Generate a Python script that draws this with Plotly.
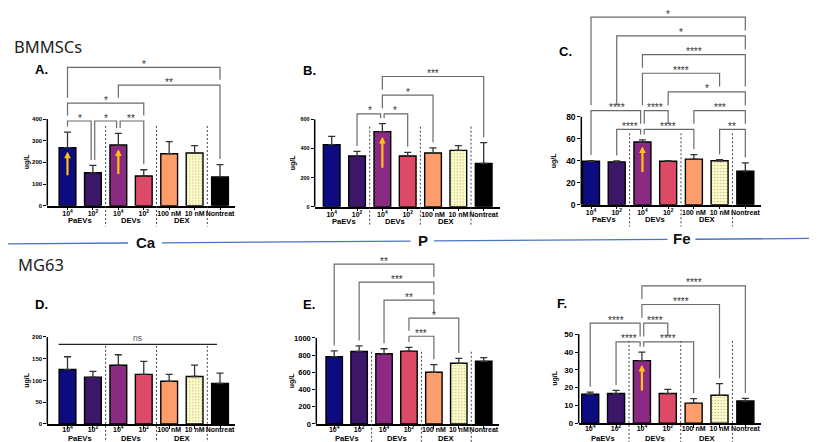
import plotly.graph_objects as go

W, H = 817, 442

# ---------------- data ----------------
categories = ["10<sup>4</sup>", "10<sup>2</sup>", "10<sup>4</sup>", "10<sup>2</sup>", "100 nM", "10 nM", "Nontreat"]
group_names = ["PaEVs", "DEVs", "DEX"]
group_pos = [0.5, 2.5, 4.5]
separator_pos = [1.5, 3.5, 5.5]
bar_colors = ["#0c0c80", "#3b1669", "#8b2a82", "#dd4a68", "#fe9d6c", "#fdfac6", "#000000"]

# A. Ca - BMMSCs
ca_bm_mean = [268, 152, 280, 137, 240, 243, 133]
ca_bm_sd = [72, 34, 54, 29, 56, 34, 57]
ca_bm_ticks = [0, 100, 200, 300, 400]
ca_bm_sig = [(0, 1, 1, "*"), (1, 2, 1, "*"), (2, 3, 1, "**"), (0, 3, 2, "*"), (2, 6, 3, "**"), (0, 6, 4, "*")]

# B. P - BMMSCs
p_bm_mean = [427, 349, 516, 349, 369, 387, 297]
p_bm_sd = [56, 31, 55, 25, 36, 33, 143]
p_bm_ticks = [0, 200, 400, 600]
p_bm_sig = [(1, 2, 1, "*"), (2, 3, 1, "*"), (2, 4, 2, "*"), (2, 6, 3, "***")]

# C. Fe - BMMSCs
fe_bm_mean = [39.5, 39.0, 57.0, 39.5, 41.5, 40.0, 30.5]
fe_bm_sd = [0.7, 0.8, 2.0, 0.5, 4.0, 1.0, 7.5]
fe_bm_ticks = [0, 20, 40, 60, 80]
fe_bm_sig = [(1, 2, 1, "****"), (2, 4, 1, "****"), (5, 6, 1, "**"),
             (0, 2, 2, "****"), (2, 3, 2, "****"), (4, 6, 2, "***"),
             (3, 6, 3, "*"), (2, 5, 4, "****"), (2, 6, 5, "****"),
             (1, 6, 6, "*"), (0, 6, 7, "*")]

# D. Ca - MG63
ca_mg_mean = [125, 107.6, 135, 114, 98, 109, 93]
ca_mg_sd = [29.5, 13.4, 24, 30, 16, 26, 24]
ca_mg_ticks = [0, 50, 100, 150, 200]
ca_mg_sig = [(0, 6, 1, "ns")]

# E. P - MG63
p_mg_mean = [781, 843, 816, 847, 601, 705, 728]
p_mg_sd = [69, 65, 58, 42, 89, 57, 42]
p_mg_ticks = [0, 200, 400, 600, 800, 1000]
p_mg_sig = [(3, 4, 1, "***"), (3, 5, 2, "*"), (2, 4, 3, "**"), (1, 4, 4, "***"), (0, 4, 5, "**")]

# F. Fe - MG63
fe_mg_mean = [16.3, 16.7, 35.2, 16.7, 11.3, 15.7, 12.5]
fe_mg_sd = [1.2, 1.8, 4.8, 2.3, 2.5, 6.6, 1.5]
fe_mg_ticks = [0, 10, 20, 30, 40, 50]
fe_mg_sig = [(1, 2, 1, "****"), (2, 4, 1, "****"), (0, 2, 2, "****"), (2, 3, 2, "****"),
             (2, 5, 3, "****"), (2, 6, 4, "****")]

# ---------------- layout parameters (pixels) ----------------
panels = [
    dict(label="A.", lab_xy=(25, 62.5), mean=ca_bm_mean, sd=ca_bm_sd, ticks=ca_bm_ticks, sig=ca_bm_sig, arrows=[0, 2],
         left=39.3, bar0=59.5, step=25.42, right=227, y0=200, tickpx=112.3, top=45,
         base=114.3, lstep=18.1, septop=119.3, sepbot=221, ylab=(19, 156), tfs=6, glab=15.3, tso=-3),
    dict(label="B.", lab_xy=(292.5, 63), mean=p_bm_mean, sd=p_bm_sd, ticks=p_bm_ticks, sig=p_bm_sig, arrows=[2],
         left=306.7, bar0=323.7, step=25.33, right=491.7, y0=201, tickpx=112.7, top=55,
         base=107, lstep=18.85, septop=120, sepbot=221, ylab=(285, 157), tfs=5.5, glab=15.3, tso=-3),
    dict(label="C.", lab_xy=(549, 44), mean=fe_bm_mean, sd=fe_bm_sd, ticks=fe_bm_ticks, sig=fe_bm_sig, arrows=[2],
         left=573.3, bar0=583, step=25.72, right=753, y0=199, tickpx=110, top=0,
         base=122.7, lstep=18.9, septop=126.7, sepbot=221, ylab=(546, 155), tfs=8.5, glab=15.3, tso=-3),
    dict(label="D.", lab_xy=(25, 299.5), mean=ca_mg_mean, sd=ca_mg_sd, ticks=ca_mg_ticks, sig=ca_mg_sig, arrows=[],
         left=39.3, bar0=59.5, step=25.42, right=227, y0=420.7, tickpx=332.7, top=325,
         base=340.3, lstep=18.5, septop=341.7, sepbot=442, ylab=(19, 377), tfs=6, glab=14.8, tso=-5),
    dict(label="E.", lab_xy=(292.5, 300), mean=p_mg_mean, sd=p_mg_sd, ticks=p_mg_ticks, sig=p_mg_sig, arrows=[],
         left=308.3, bar0=326.2, step=24.92, right=490.7, y0=420.7, tickpx=333.7, top=245,
         base=332, lstep=18.25, septop=347.7, sepbot=442, ylab=(283.5, 377), tfs=7.5, glab=14.8, tso=-5),
    dict(label="F.", lab_xy=(546.5, 299), mean=fe_mg_mean, sd=fe_mg_sd, ticks=fe_mg_ticks, sig=fe_mg_sig, arrows=[2],
         left=570.7, bar0=582.2, step=25.86, right=753.3, y0=420, tickpx=330, top=268,
         base=337.7, lstep=18.9, septop=336.7, sepbot=442, ylab=(547, 375), tfs=8, glab=15.2, tso=-5),
]

FONT = "Liberation Sans"
BR_COLOR = "#6a6a6a"
GAP_PX = 5.5


def px2x(px):
    return px / W


def px2y(py):
    return 1 - py / H


fig = go.Figure()
shapes = []
annotations = []
layout_axes = {}

for k, p in enumerate(panels, start=1):
    xn = "x" if k == 1 else f"x{k}"
    yn = "y" if k == 1 else f"y{k}"
    xl = "xaxis" if k == 1 else f"xaxis{k}"
    yl = "yaxis" if k == 1 else f"yaxis{k}"

    tmax = p["ticks"][-1]
    pxu = (p["y0"] - p["tickpx"]) / tmax  # pixels per data unit
    ymax = (p["y0"] - p["top"]) / pxu
    xmin = (p["left"] - p["bar0"]) / p["step"]
    xmax = (p["right"] - p["bar0"]) / p["step"]

    n = len(categories)
    xs = list(range(n))
    errtop = [m + s for m, s in zip(p["mean"], p["sd"])]
    pattern_shapes = ["." if c == "10 nM" else "" for c in categories]

    fig.add_trace(go.Bar(
        x=xs, y=p["mean"], xaxis=xn, yaxis=yn, width=0.66,
        marker=dict(color=bar_colors, line=dict(color="#000000", width=1.4),
                    pattern=dict(shape=pattern_shapes, fgcolor="#e4e0b4", size=3, solidity=0.12)),
        error_y=dict(type="data", symmetric=False, array=p["sd"], arrayminus=[0] * n,
                     color="#333333", thickness=1.3, width=3.5),
        showlegend=False, hoverinfo="skip",
    ))

    layout_axes[xl] = dict(
        domain=[px2x(p["left"]), px2x(p["right"])], range=[xmin, xmax], anchor=yn,
        tickvals=xs, ticktext=categories, tickangle=0, ticks="outside", ticklen=3, tickwidth=1.2,
        tickcolor="#000", showline=True, linecolor="#000", linewidth=1.5, showgrid=False,
        zeroline=False, tickfont=dict(family=FONT, size=7, color="#000", weight="bold"),
        ticklabelstandoff=p["tso"], fixedrange=True,
    )
    layout_axes[yl] = dict(
        domain=[px2y(p["y0"]), px2y(p["top"])], range=[0, ymax], anchor=xn,
        tickvals=p["ticks"], ticks="outside", ticklen=3, tickwidth=1.2, tickcolor="#000",
        showline=False, showgrid=False, zeroline=False,
        tickfont=dict(family=FONT, size=p["tfs"], color="#000", weight="bold"), fixedrange=True,
    )

    # y axis line only up to the last tick
    shapes.append(dict(type="line", xref=f"{xn} domain", yref=yn, x0=0, x1=0, y0=0, y1=tmax,
                       line=dict(color="#000", width=1.5)))

    # dashed group separators
    for sx in separator_pos:
        shapes.append(dict(type="line", xref=xn, yref="paper", x0=sx, x1=sx,
                           y0=px2y(p["septop"]), y1=px2y(p["sepbot"]),
                           line=dict(color="#444", width=1, dash="2px,2px")))

    # group labels
    for gname, gx in zip(group_names, group_pos):
        annotations.append(dict(xref=xn, yref="paper", x=gx, y=px2y(p["y0"] + p["glab"]), text=gname,
                                showarrow=False, font=dict(family=FONT, size=7.6, color="#000", weight="bold"),
                                xanchor="center", yanchor="middle"))

    # y label
    annotations.append(dict(xref="paper", yref="paper", x=px2x(p["ylab"][0]), y=px2y(p["ylab"][1]),
                            text="ug/L", textangle=-90, showarrow=False,
                            font=dict(family=FONT, size=7, color="#000", weight="bold"),
                            xanchor="center", yanchor="middle"))

    # panel label
    annotations.append(dict(xref="paper", yref="paper", x=px2x(p["lab_xy"][0]), y=px2y(p["lab_xy"][1]),
                            text=p["label"], showarrow=False,
                            font=dict(family=FONT, size=13, color="#000", weight="bold"),
                            xanchor="left", yanchor="middle"))

    # significance brackets
    sig = p["sig"]
    gap = GAP_PX / pxu
    off = 1.8 / p["step"]

    def lvl_y(L, p=p, pxu=pxu):
        return (p["y0"] - p["base"]) / pxu + (L - 1) * p["lstep"] / pxu

    for (i, j, L, lab) in sig:
        yL = lvl_y(L)
        if lab == "ns":
            x_a, x_b = i - 0.35, j - 0.12
            shapes.append(dict(type="line", xref=xn, yref=yn, x0=x_a, x1=x_b, y0=yL, y1=yL,
                               line=dict(color="#222", width=1.3)))
            annotations.append(dict(xref=xn, yref=yn, x=(x_a + x_b) / 2, y=yL, text="ns", showarrow=False,
                                    font=dict(family=FONT, size=8.5, color="#555"),
                                    yanchor="middle", yshift=6))
            continue

        def bottom(b, L=L):
            h = errtop[b]
            for (a2, b2, L2, _) in sig:
                if L2 < L and a2 <= b <= b2:
                    h = max(h, lvl_y(L2))
            return h + gap

        xi, xj = float(i), float(j)
        for (a2, b2, L2, _) in sig:
            if L2 == L and (a2, b2) != (i, j):
                if b2 == i:
                    xi = i + off
                if a2 == j:
                    xj = j - off
        path = f"M {xi},{bottom(i)} V {yL} H {xj} V {bottom(j)}"
        shapes.append(dict(type="path", xref=xn, yref=yn, path=path,
                           line=dict(color=BR_COLOR, width=1.2)))
        annotations.append(dict(xref=xn, yref=yn, x=(i + j) / 2, y=yL, text=lab, showarrow=False,
                                font=dict(family=FONT, size=10, color="#333"),
                                xanchor="center", yanchor="middle", yshift=3))

    # yellow arrows on highlighted bars
    for b in p["arrows"]:
        m = p["mean"][b]
        annotations.append(dict(xref=xn, yref=yn, axref=xn, ayref=yn, x=b, y=m * 0.93, ax=b, ay=m * 0.5,
                                text="", showarrow=True, arrowhead=2, arrowsize=0.6, arrowwidth=2.2,
                                arrowcolor="#ffc20e", standoff=0, startstandoff=0))

# titles
annotations.append(dict(xref="paper", yref="paper", x=px2x(4), y=px2y(39), text="BMMSCs", showarrow=False,
                        font=dict(family="Noto Sans", size=16.5, color="#222"), xanchor="left", yanchor="middle"))
annotations.append(dict(xref="paper", yref="paper", x=px2x(8), y=px2y(259), text="MG63", showarrow=False,
                        font=dict(family="Noto Sans", size=16.5, color="#222"), xanchor="left", yanchor="middle"))

# element dividers
elements = [("Ca", 137.5), ("P", 415), ("Fe", 673.5)]
seg_breaks = [(0, 120), (154, 402.5), (426, 659.5), (687.5, 817)]


def line_y(px):
    return 238.5 - 5.5 * px / W


for (a, b) in seg_breaks:
    shapes.append(dict(type="line", xref="paper", yref="paper", x0=px2x(a), x1=px2x(b),
                       y0=px2y(line_y(a)), y1=px2y(line_y(b)), line=dict(color="#4a74c4", width=1.3)))
for name, cx in elements:
    annotations.append(dict(xref="paper", yref="paper", x=px2x(cx), y=px2y(line_y(cx) - 0.5), text=name,
                            showarrow=False, font=dict(family=FONT, size=15, color="#111", weight="bold"),
                            xanchor="center", yanchor="middle"))

fig.update_layout(
    width=W, height=H, margin=dict(l=0, r=0, t=0, b=0),
    paper_bgcolor="white", plot_bgcolor="white", showlegend=False, bargap=0.3,
    shapes=shapes, annotations=annotations, **layout_axes,
)

fig.write_html("out.html")
